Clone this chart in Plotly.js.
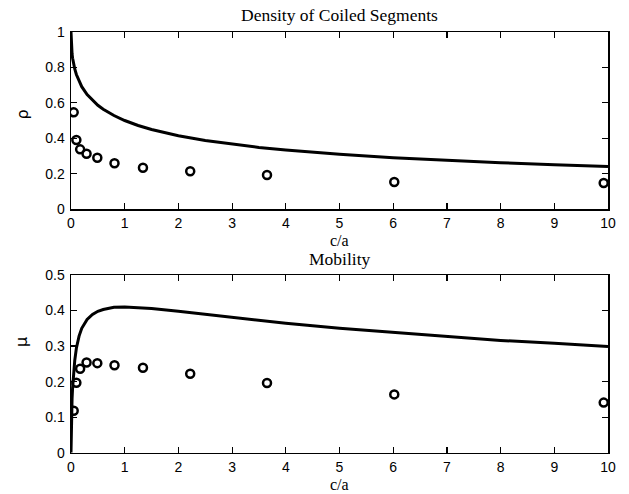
<!DOCTYPE html>
<html>
<head>
<meta charset="utf-8">
<script src="https://cdn.plot.ly/plotly-3.0.1.min.js"></script>
<style>html,body{margin:0;padding:0;background:#fff;}#chart{width:629px;height:494px;}</style>
</head>
<body>
<div id="chart"></div>
<script>
// Measured points (circles)
var ptsX   = [0.05, 0.1, 0.17, 0.29, 0.49, 0.81, 1.34, 2.22, 3.65, 6.02, 9.92];
var rhoPts = [0.546, 0.390, 0.337, 0.312, 0.290, 0.258, 0.233, 0.213, 0.192, 0.153, 0.147];
var muPts  = [0.118, 0.197, 0.236, 0.254, 0.252, 0.246, 0.239, 0.222, 0.196, 0.164, 0.141];

// Theory curves
var curveX   = [0, 0.005, 0.01, 0.02, 0.03, 0.05, 0.07, 0.1, 0.15, 0.2, 0.3, 0.4, 0.5, 0.6, 0.8, 1.0, 1.25, 1.5, 2, 2.5, 3, 3.5, 4, 5, 6, 7, 8, 9, 10];
var rhoCurve = [1.0, 0.934, 0.909, 0.876, 0.852, 0.817, 0.791, 0.760, 0.721, 0.691, 0.646, 0.613, 0.586, 0.564, 0.528, 0.500, 0.472, 0.449, 0.414, 0.387, 0.366, 0.348, 0.333, 0.309, 0.290, 0.275, 0.262, 0.250, 0.240];
var muCurve  = [0.0, 0.075, 0.105, 0.152, 0.183, 0.228, 0.260, 0.294, 0.328, 0.350, 0.375, 0.389, 0.398, 0.403, 0.409, 0.410, 0.409, 0.406, 0.398, 0.389, 0.381, 0.372, 0.364, 0.350, 0.338, 0.327, 0.316, 0.308, 0.299];

var xTicks  = [0, 1, 2, 3, 4, 5, 6, 7, 8, 9, 10];
var y1Ticks = [0, 0.2, 0.4, 0.6, 0.8, 1];
var y2Ticks = [0, 0.1, 0.2, 0.3, 0.4, 0.5];

var titleTop = 'Density of Coiled Segments';
var titleBottom = 'Mobility';
var xLabel = 'c/a';
var y1Label = 'ρ';
var y2Label = 'μ';

var W = 629, H = 494, L = 71, R = 21;
function px(x){ return (x - L) / (W - L - R); }
function py(y){ return (H - y) / H; }

var lineStyle = {color: '#000', width: 3};
var markerStyle = {symbol: 'circle-open', size: 8, color: '#000', line: {color: '#000', width: 2.5}};

var traces = [
  {x: curveX, y: rhoCurve, mode: 'lines', line: lineStyle, xaxis: 'x', yaxis: 'y', hoverinfo: 'skip'},
  {x: ptsX, y: rhoPts, mode: 'markers', marker: markerStyle, xaxis: 'x', yaxis: 'y'},
  {x: curveX, y: muCurve, mode: 'lines', line: lineStyle, xaxis: 'x2', yaxis: 'y2', hoverinfo: 'skip'},
  {x: ptsX, y: muPts, mode: 'markers', marker: markerStyle, xaxis: 'x2', yaxis: 'y2'}
];

var tickFont = {family: 'Liberation Sans, Arial, sans-serif', size: 14, color: '#000'};
function xAxis(anchor){
  return {anchor: anchor, domain: [0, 1], range: [0, 10], tickvals: xTicks, ticks: 'inside', ticklen: 6,
    tickwidth: 1.2, tickcolor: '#000', showline: true, linecolor: '#000', linewidth: 1.5, mirror: 'ticks',
    showgrid: false, zeroline: false, tickfont: tickFont, ticklabelstandoff: 1, fixedrange: true};
}
function yAxis(anchor, dom, rng, tv){
  return {anchor: anchor, domain: dom, range: rng, tickvals: tv, ticks: 'inside', ticklen: 6,
    tickwidth: 1.2, tickcolor: '#000', showline: true, linecolor: '#000', linewidth: 1.5, mirror: 'ticks',
    showgrid: false, zeroline: false, tickfont: tickFont, ticklabelstandoff: 2, fixedrange: true};
}

var serif = {family: 'Liberation Serif, Times New Roman, serif', size: 17.5, color: '#000'};
var serifSmall = {family: 'Liberation Serif, Times New Roman, serif', size: 16, color: '#000'};
var sym = {family: 'DejaVu Sans, sans-serif', size: 16, color: '#000'};

var layout = {
  width: W, height: H,
  margin: {l: L, r: R, t: 0, b: 0},
  paper_bgcolor: '#fff', plot_bgcolor: '#fff',
  showlegend: false,
  xaxis: xAxis('y'),
  yaxis: yAxis('x', [py(209), py(32)], [0, 1], y1Ticks),
  xaxis2: xAxis('y2'),
  yaxis2: yAxis('x2', [py(452.7), py(275)], [0, 0.5], y2Ticks),
  annotations: [
    {text: titleTop, xref: 'paper', yref: 'paper', x: 0.5, y: py(15), xanchor: 'center', yanchor: 'middle', showarrow: false, font: serif},
    {text: xLabel, xref: 'paper', yref: 'paper', x: 0.5, y: py(240.5), xanchor: 'center', yanchor: 'middle', showarrow: false, font: serifSmall},
    {text: titleBottom, xref: 'paper', yref: 'paper', x: 0.5, y: py(259.5), xanchor: 'center', yanchor: 'middle', showarrow: false, font: serif},
    {text: xLabel, xref: 'paper', yref: 'paper', x: 0.5, y: py(484.5), xanchor: 'center', yanchor: 'middle', showarrow: false, font: serifSmall},
    {text: y1Label, xref: 'paper', yref: 'paper', x: px(21.5), y: py(115), xanchor: 'center', yanchor: 'middle', textangle: -90, showarrow: false, font: sym},
    {text: y2Label, xref: 'paper', yref: 'paper', x: px(21), y: py(342), xanchor: 'center', yanchor: 'middle', textangle: -90, showarrow: false, font: sym}
  ]
};

Plotly.newPlot('chart', traces, layout, {displayModeBar: false, staticPlot: true});
</script>
</body>
</html>
